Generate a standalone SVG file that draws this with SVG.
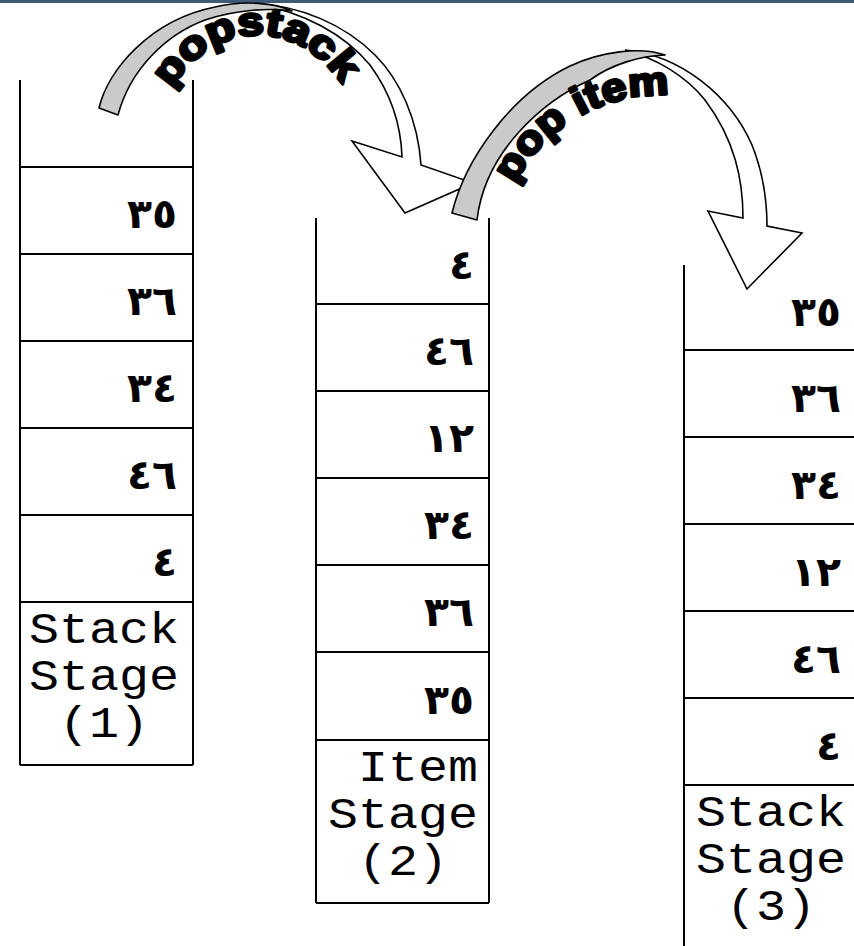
<svg xmlns="http://www.w3.org/2000/svg" width="854" height="946" viewBox="0 0 854 946">
  <style>
    .frame { stroke: #000; stroke-width: 2; fill: none; }
    .num { font-family: "DejaVu Sans", sans-serif; font-weight: bold; font-size: 41px; fill: #000; text-anchor: end; }
    .lbl { font-family: "Liberation Mono", "Courier New", monospace; font-size: 45px; fill: #000; }
    .mid { text-anchor: middle; }
    .end { text-anchor: end; }
    .back { fill: #cacaca; stroke: #000; stroke-width: 1.6; stroke-linejoin: round; }
    .front { fill: #fff; stroke: #000; stroke-width: 1.6; stroke-linejoin: miter; }
    .curve { font-family: "Liberation Sans", Arial, sans-serif; font-weight: bold; font-size: 40px; fill: #000; stroke: #000; stroke-width: 3; stroke-linejoin: round; }
  </style>
  <defs>
    <path id="arc-popstack" d="M171.3,88.8 A110,140 0 0 1 343.5,86.9"/>
    <path id="arc-popitem" d="M514.8,184 A163,163 0 0 1 671.4,95.4"/>
  </defs>

  <rect x="0" y="0" width="854" height="3" fill="#3e5b7a"/>

  <!-- stage 1 -->
  <g id="stack-stage-1">
    <path class="frame" d="M20,80 V765 M193,80 V765 M20,167 H193 M20,254 H193 M20,341 H193 M20,428 H193 M20,515 H193 M20,602 H193 M20,765 H193"/>
    <text class="num" x="177" y="228">٣٥</text>
    <text class="num" x="177" y="315">٣٦</text>
    <text class="num" x="177" y="402">٣٤</text>
    <text class="num" x="177" y="489">٤٦</text>
    <text class="num" x="177" y="576">٤</text>
    <text class="lbl mid" x="104" y="643" textLength="150" lengthAdjust="spacingAndGlyphs">Stack</text>
    <text class="lbl mid" x="104" y="690" textLength="150" lengthAdjust="spacingAndGlyphs">Stage</text>
    <text class="lbl mid" x="104" y="737" textLength="90" lengthAdjust="spacingAndGlyphs">(1)</text>
  </g>

  <!-- stage 2 -->
  <g id="item-stage-2">
    <path class="frame" d="M316,218 V903 M489,218 V903 M316,304 H489 M316,391 H489 M316,478 H489 M316,565 H489 M316,652 H489 M316,740 H489 M316,903 H489"/>
    <text class="num" x="474" y="279">٤</text>
    <text class="num" x="474" y="365">٤٦</text>
    <text class="num" x="474" y="452">١٢</text>
    <text class="num" x="474" y="539">٣٤</text>
    <text class="num" x="474" y="626">٣٦</text>
    <text class="num" x="474" y="714">٣٥</text>
    <text class="lbl end" x="478" y="781" textLength="120" lengthAdjust="spacingAndGlyphs">Item</text>
    <text class="lbl mid" x="403" y="828" textLength="150" lengthAdjust="spacingAndGlyphs">Stage</text>
    <text class="lbl mid" x="403" y="875" textLength="90" lengthAdjust="spacingAndGlyphs">(2)</text>
  </g>

  <!-- stage 3 -->
  <g id="stack-stage-3">
    <path class="frame" d="M684,265 V946 M684,350 H854 M684,437 H854 M684,524 H854 M684,611 H854 M684,698 H854 M684,785 H854"/>
    <text class="num" x="841" y="326">٣٥</text>
    <text class="num" x="841" y="412">٣٦</text>
    <text class="num" x="841" y="499">٣٤</text>
    <text class="num" x="841" y="586">١٢</text>
    <text class="num" x="841" y="673">٤٦</text>
    <text class="num" x="841" y="760">٤</text>
    <text class="lbl mid" x="771" y="826" textLength="150" lengthAdjust="spacingAndGlyphs">Stack</text>
    <text class="lbl mid" x="771" y="873" textLength="150" lengthAdjust="spacingAndGlyphs">Stage</text>
    <text class="lbl mid" x="771" y="920" textLength="90" lengthAdjust="spacingAndGlyphs">(3)</text>
  </g>

  <!-- curved block arrows between the stages -->
  <g id="connectors">
    <g id="arrow-popstack">
      <path class="front" d="M255,4 C300,5 345,25 375,55 C400,80 418,120 421,165 L473,183 L405,213 L352,141 L402,157 C401,125 392,95 370,65 C345,35 305,12 255,4 Z"/>
      <path class="back" d="M99,108 C108,70 150,20 215,7 C245,0 275,3 292,11 C270,8 238,9 205,20 C165,35 130,70 118,115 Z"/>
      <text class="curve"><textPath href="#arc-popstack" textLength="208" lengthAdjust="spacingAndGlyphs">popstack</textPath></text>
    </g>
    <g id="arrow-popitem">
      <path class="front" d="M625,50 C680,55 730,95 752,145 C762,170 767,200 767,226 L802,233 L747,289 L708,211 L743,218 C743,180 735,140 705,100 C685,75 655,58 625,50 Z"/>
      <path class="back" d="M452,213 C465,160 510,95 570,66 C600,52 640,46 665,55 C640,56 612,64 590,80 C545,100 485,150 477,220 Z"/>
      <text class="curve"><textPath href="#arc-popitem" textLength="188" lengthAdjust="spacingAndGlyphs">pop item</textPath></text>
    </g>
  </g>
</svg>
